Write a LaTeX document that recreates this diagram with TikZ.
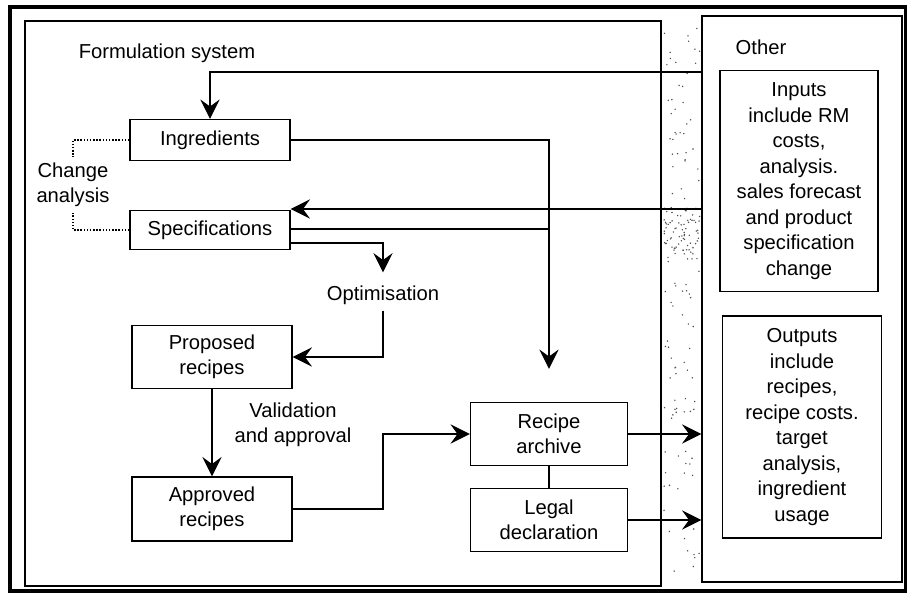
\documentclass[tikz,border=0pt]{standalone}
\usepackage{fontspec}
\setmainfont{Liberation Sans}
\usetikzlibrary{arrows.meta,calc}
\begin{document}
\begin{tikzpicture}[x=0.02cm,y=-0.02cm,>={Stealth[length=11pt,width=11pt,inset=4pt]},
		font=\fontsize{11.5}{14.5}\selectfont,
		box/.style={draw,line width=0.8pt,minimum width=3.2cm,align=center,inner sep=1pt},
		frame/.style={draw,line width=0.8pt,inner sep=0pt},
		arr/.style={->,line width=0.8pt},
		link/.style={line width=0.8pt}]
			\useasboundingbox (0,0) rectangle (907,593);
			\fill[white] (0,0) rectangle (907,593);
			\pgfmathsetseed{11}
			\foreach \i in {1,...,110} {
				\pgfmathsetmacro{\dx}{664+36*rnd}
				\pgfmathsetmacro{\dy}{25+555*rnd}
				\fill[black!70] (\dx,\dy) circle (0.45pt);
			}
			\foreach \i in {1,...,70} {
				\pgfmathsetmacro{\dx}{664+36*rnd}
				\pgfmathsetmacro{\dy}{208+55*rnd}
				\fill[black!70] (\dx,\dy) circle (0.45pt);
			}
			\draw[line width=2pt] (10,7) rectangle (906,591);
			\node[frame,minimum width=12.72cm,minimum height=11.3cm] (sys) at (343,303.5) {};
			\node[frame,minimum width=4cm,minimum height=11.32cm] (other) at (802,299) {};
			\node at (167,53) {Formulation system};
			\node at (761,47) {Other};
			\node[box,minimum width=3.16cm,minimum height=4.42cm] (inputs) at (799,181) {Inputs\\include RM\\costs,\\analysis.\\sales forecast\\and product\\specification\\change};
			\node[box,minimum width=3.18cm,minimum height=4.44cm] (outputs) at (802,427) {Outputs\\include\\recipes,\\recipe costs.\\target\\analysis,\\ingredient\\usage};
			\node[box,minimum height=0.82cm] (ingr) at (210,140) {Ingredients};
			\node[box,minimum height=0.78cm] (spec) at (210,230) {Specifications};
			\node (opt) at (383,295) {Optimisation};
			\node[box,minimum height=1.26cm] (prop) at (212,357) {Proposed\\recipes};
			\node[box,minimum height=1.28cm] (appr) at (212,509) {Approved\\recipes};
			\node[box,minimum width=3.14cm,minimum height=1.26cm] (arch) at (549,434) {Recipe\\archive};
			\node[box,minimum width=3.14cm,minimum height=1.26cm] (legal) at (549,520) {Legal\\declaration};
			\node[align=center] (val) at (293,425) {Validation\\and approval};
			\node[align=center] (chg) at (73,185) {Change\\analysis};
			\draw[arr] (other.west |- 0,72) -| (ingr.north);
			\draw[arr] (other.west |- 0,209) -- (spec.east |- 0,209);
			\draw[arr,shorten >=0.66cm] (ingr.east) -| (arch.north);
			\draw[link] (spec.east |- 0,229) -- (arch.north |- 0,229);
			\draw[arr,shorten >=4pt] (spec.east |- 0,243) -| (opt.north);
			\draw[arr] (opt.south) |- (prop.east);
			\draw[arr] (prop) -- (appr);
			\draw[arr] (appr.east) -| (opt |- arch.west) -- (arch.west);
			\draw[link] (arch) -- (legal);
			\draw[arr] (arch.east) -- (other.west |- arch.east);
			\draw[arr] (legal.east) -- (other.west |- legal.east);
			\draw[densely dotted,line width=0.8pt] (ingr.west) -| (chg.north);
			\draw[densely dotted,line width=0.8pt] (spec.west) -| (chg.south);
		\end{tikzpicture}
\end{document}
